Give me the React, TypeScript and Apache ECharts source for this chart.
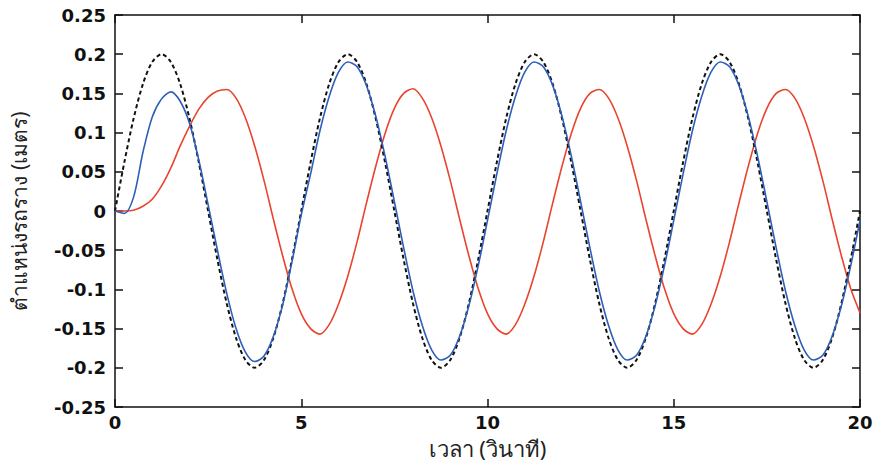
import React, { useEffect, useRef } from "react";
import * as echarts from "echarts";

const TIME = [
  0, 0.25, 0.5, 0.75, 1, 1.25, 1.5, 1.75, 2, 2.25, 2.5, 2.75, 3, 3.25, 3.5, 3.75, 4, 4.25, 4.5, 4.75,
  5, 5.25, 5.5, 5.75, 6, 6.25, 6.5, 6.75, 7, 7.25, 7.5, 7.75, 8, 8.25, 8.5, 8.75, 9, 9.25, 9.5, 9.75,
  10, 10.25, 10.5, 10.75, 11, 11.25, 11.5, 11.75, 12, 12.25, 12.5, 12.75, 13, 13.25, 13.5, 13.75, 14, 14.25, 14.5, 14.75,
  15, 15.25, 15.5, 15.75, 16, 16.25, 16.5, 16.75, 17, 17.25, 17.5, 17.75, 18, 18.25, 18.5, 18.75, 19, 19.25, 19.5, 19.75,
  20,
];

const BLACK = [
  0, 0.062, 0.118, 0.162, 0.19, 0.2, 0.19, 0.162, 0.118, 0.062, 0, -0.062, -0.118, -0.162, -0.19, -0.2, -0.19, -0.162, -0.118, -0.062,
  0, 0.062, 0.118, 0.162, 0.19, 0.2, 0.19, 0.162, 0.118, 0.062, 0, -0.062, -0.118, -0.162, -0.19, -0.2, -0.19, -0.162, -0.118, -0.062,
  0, 0.062, 0.118, 0.162, 0.19, 0.2, 0.19, 0.162, 0.118, 0.062, 0, -0.062, -0.118, -0.162, -0.19, -0.2, -0.19, -0.162, -0.118, -0.062,
  0, 0.062, 0.118, 0.162, 0.19, 0.2, 0.19, 0.162, 0.118, 0.062, 0, -0.062, -0.118, -0.162, -0.19, -0.2, -0.19, -0.162, -0.118, -0.062,
  0,
];

const BLUE = [
  0, -0.003, 0.018, 0.075, 0.12, 0.143, 0.152, 0.14, 0.112, 0.065, 0.008, -0.05, -0.105, -0.15, -0.18, -0.192, -0.185, -0.16, -0.12, -0.065,
  -0.005, 0.047, 0.102, 0.146, 0.177, 0.19, 0.184, 0.16, 0.121, 0.07, 0.012, -0.047, -0.102, -0.146, -0.177, -0.19, -0.184, -0.16, -0.121, -0.07,
  -0.012, 0.047, 0.102, 0.146, 0.177, 0.19, 0.184, 0.16, 0.121, 0.07, 0.012, -0.047, -0.102, -0.146, -0.177, -0.19, -0.184, -0.16, -0.121, -0.07,
  -0.012, 0.047, 0.102, 0.146, 0.177, 0.19, 0.184, 0.16, 0.121, 0.07, 0.012, -0.047, -0.102, -0.146, -0.177, -0.19, -0.184, -0.16, -0.121, -0.07,
  -0.012,
];

const RED = [
  0, 0, 0.001, 0.006, 0.015, 0.032, 0.055, 0.083, 0.108, 0.13, 0.145, 0.153,
  0.155, 0.144, 0.119, 0.083, 0.039, -0.01, -0.057, -0.099, -0.131, -0.15, -0.157, -0.145, -0.119, -0.083, -0.039, 0.01, 0.057, 0.099, 0.131, 0.15,
  0.156, 0.144, 0.119, 0.083, 0.039, -0.01, -0.057, -0.099, -0.131, -0.15, -0.157, -0.145, -0.119, -0.083, -0.039, 0.01, 0.057, 0.099, 0.131, 0.15,
  0.155, 0.144, 0.119, 0.083, 0.039, -0.01, -0.057, -0.099, -0.131, -0.15, -0.157, -0.145, -0.119, -0.083, -0.039, 0.01, 0.057, 0.099, 0.131, 0.15,
  0.155, 0.144, 0.119, 0.083, 0.039, -0.01, -0.057, -0.099, -0.13,
];

const X_NAME = "เวลา (วินาที)";
const Y_NAME = "ตำแหน่งรถราง (เมตร)";

const pairs = (ys: number[]) => TIME.map((t, i) => [t, ys[i]]);

export default function App() {
  const ref = useRef<HTMLDivElement>(null);
  useEffect(() => {
    if (!ref.current) return;
    const chart = echarts.init(ref.current, undefined, { renderer: "svg" });
    const labelFont = {
      color: "#111",
      fontFamily: "DejaVu Sans, sans-serif",
      fontWeight: "bold" as const,
      fontSize: 18,
    };
    const axisLine = { show: true, onZero: false, lineStyle: { color: "#111", width: 1.5 } };
    const tick = { show: true, inside: true, length: 8, lineStyle: { color: "#111", width: 1.5 } };
    const nameFont = { fontSize: 22, color: "#222", fontFamily: "Noto Sans, DejaVu Sans, sans-serif" };
    chart.setOption({
      animation: false,
      backgroundColor: "#fff",
      grid: { left: 115, right: 16, top: 15, bottom: 61, containLabel: false, outerBoundsMode: "none" },
      xAxis: [
        {
          type: "value",
          position: "bottom",
          min: 0,
          max: 20,
          interval: 5,
          axisLine,
          axisTick: tick,
          splitLine: { show: false },
          axisLabel: { ...labelFont, margin: 6 },
          name: X_NAME,
          nameLocation: "middle",
          nameGap: 30,
          nameTextStyle: nameFont,
        },
        {
          type: "value",
          position: "top",
          min: 0,
          max: 20,
          interval: 5,
          axisLine,
          axisTick: tick,
          splitLine: { show: false },
          axisLabel: { show: false },
        },
      ],
      yAxis: [
        {
          type: "value",
          position: "left",
          min: -0.25,
          max: 0.25,
          interval: 0.05,
          axisLine,
          axisTick: tick,
          splitLine: { show: false },
          axisLabel: {
            ...labelFont,
            margin: 9,
            formatter: (v: number) => {
              const r = Math.round(v * 100) / 100;
              return r === 0 ? "0" : String(r);
            },
          },
          name: Y_NAME,
          nameLocation: "middle",
          nameGap: 86,
          nameRotate: 90,
          nameTextStyle: { ...nameFont, fontSize: 21 },
        },
        {
          type: "value",
          position: "right",
          min: -0.25,
          max: 0.25,
          interval: 0.05,
          axisLine,
          axisTick: tick,
          splitLine: { show: false },
          axisLabel: { show: false },
        },
      ],
      series: [
        {
          type: "line",
          data: pairs(RED),
          showSymbol: false,
          smooth: 0.3,
          lineStyle: { color: "#e8442e", width: 1.6 },
          z: 2,
        },
        {
          type: "line",
          data: pairs(BLACK),
          showSymbol: false,
          smooth: 0.3,
          lineStyle: { color: "#111", width: 2, type: [4, 3] },
          z: 3,
        },
        {
          type: "line",
          data: pairs(BLUE),
          showSymbol: false,
          smooth: 0.3,
          lineStyle: { color: "#2e5fb8", width: 1.6 },
          z: 4,
        },
      ],
    });
    return () => chart.dispose();
  }, []);
  return (
    <div
      ref={ref}
      style={{ position: "fixed", left: 0, top: 0, width: 876, height: 468, background: "#fff" }}
    />
  );
}
